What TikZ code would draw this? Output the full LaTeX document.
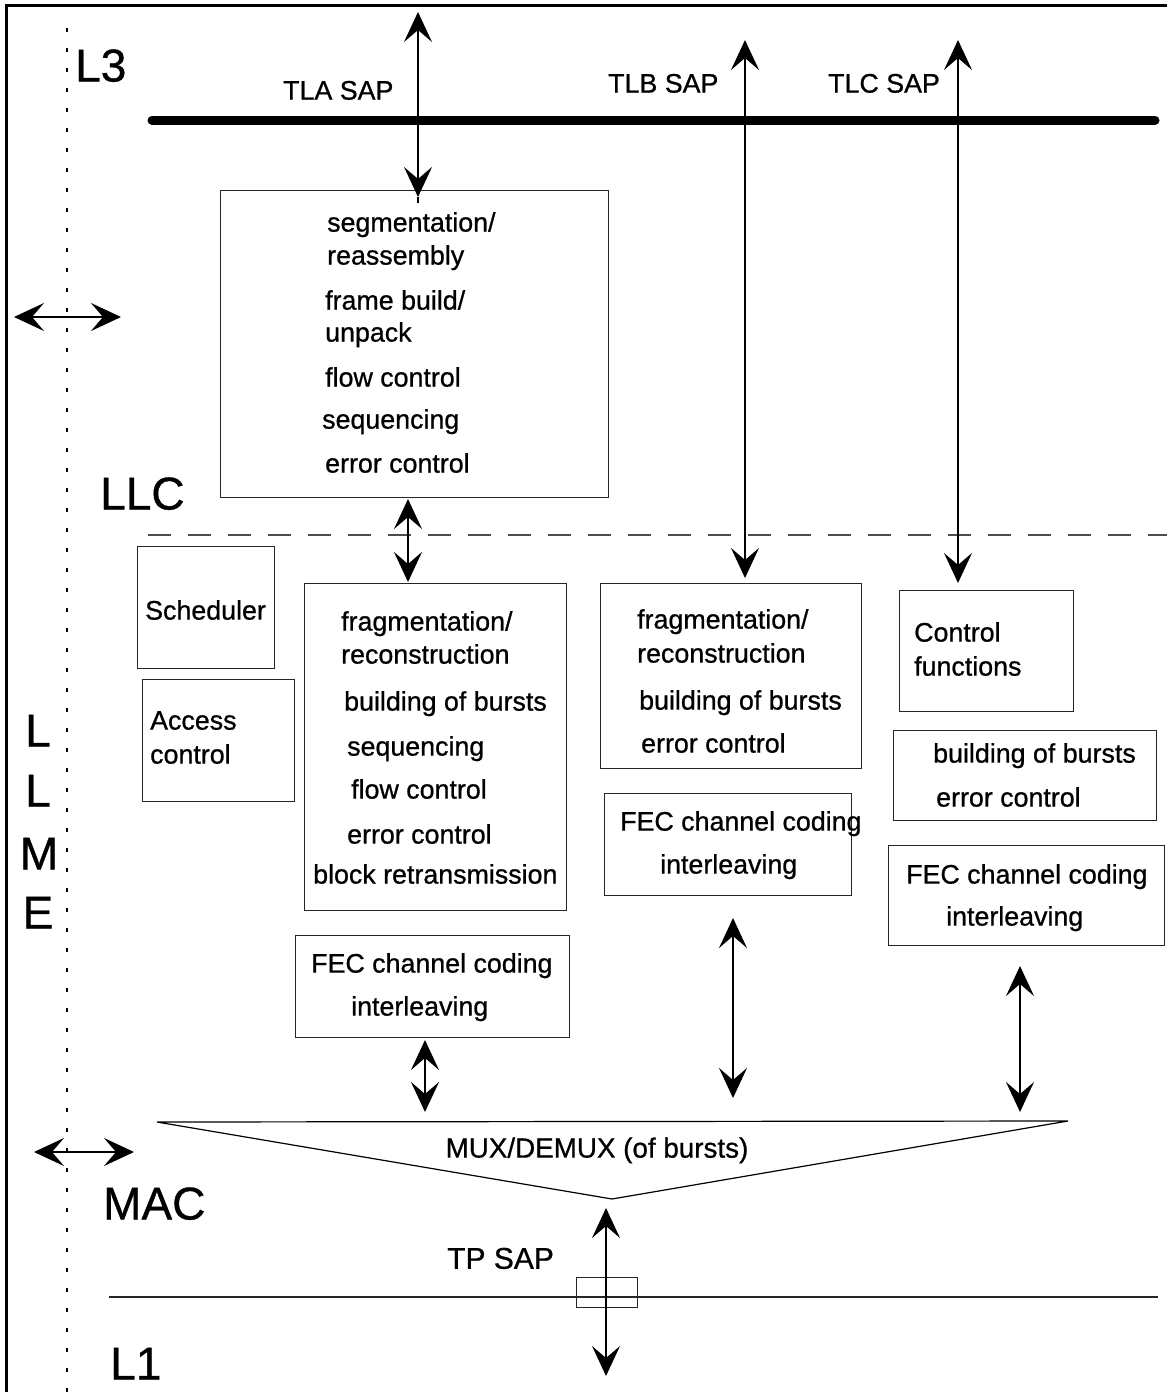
\documentclass[tikz,border=0pt]{standalone}
\usepackage{fontspec}
\setmainfont{Liberation Sans}[RawFeature={embolden=0.8}]
\usetikzlibrary{arrows.meta}
\begin{document}
\begin{tikzpicture}[x=1pt,y=-1pt,
  box/.style={draw=black!85, line width=1.3pt, inner sep=0pt, anchor=north west},
  txt/.style={inner sep=0pt, anchor=west, font=\fontsize{26.8}{30}\selectfont, text height=19.2pt, text depth=0pt},
  big/.style={inner sep=0pt, anchor=west, font=\fontsize{46}{50}\selectfont, text height=33pt, text depth=0pt},
  ahead/.tip={Stealth[length=30pt,width=28pt,inset=12pt]},
  dar/.style={ahead-ahead, line width=1.4pt},
]
\useasboundingbox (0,0) rectangle (1167,1392);
% frame
\draw[line width=3pt] (6.5,1392) -- (6.5,5.5) -- (1167,5.5);
% dotted LLME boundary
\draw[line width=1.6pt, dash pattern=on 4pt off 16pt] (67,28) -- (67,1392);
% L3 bar
\draw[line width=9pt, line cap=round] (152,120) -- (1155,120);
% LLC / MAC dashed boundary
\draw[line width=1.5pt, draw=black!70, dash pattern=on 23pt off 17pt] (148,535) -- (1167,535);
% L1 line
\draw[line width=1.3pt, draw=black!85] (109,1297) -- (1158,1297);

% big labels
\node[big] (L3) at (75,65) {L3};
\node[big] (LLC) at (100,493) {LLC};
\node[big] (MAC) at (103,1203) {MAC};
\node[big] (L1) at (110,1363) {L1};
\node[big,anchor=center] (lm1) at (38,730) {L};
\node[big,anchor=center] (lm2) at (38,790) {L};
\node[big,anchor=center] (lm3) at (39,853) {M};
\node[big,anchor=center] (lm4) at (38,912) {E};

% SAP labels
\node[txt] (tla) at (283,90) {TLA SAP};
\node[txt] (tlb) at (608,83) {TLB SAP};
\node[txt] (tlc) at (828,83) {TLC SAP};
\node[txt, font=\fontsize{30}{34}\selectfont, text height=21.5pt] (tp) at (447,1258) {TP SAP};

% boxes
\node[box, minimum width=388pt, minimum height=307pt] (llc) at (220,190) {};
\node[box, minimum width=137pt, minimum height=122pt] (sched) at (137,546) {};
\node[box, minimum width=152pt, minimum height=122pt] (acc) at (142,679) {};
\node[box, minimum width=262pt, minimum height=327pt] (frag1) at (304,583) {};
\node[box, minimum width=274pt, minimum height=102pt] (fec1) at (295,935) {};
\node[box, minimum width=261pt, minimum height=185pt] (frag2) at (600,583) {};
\node[box, minimum width=247pt, minimum height=102pt] (fec2) at (604,793) {};
\node[box, minimum width=174pt, minimum height=121pt] (ctrl) at (899,590) {};
\node[box, minimum width=263pt, minimum height=90pt] (bb3) at (893,730) {};
\node[box, minimum width=276pt, minimum height=100pt] (fec3) at (888,845) {};
\node[box, minimum width=61pt, minimum height=30pt] (tprect) at (576,1277) {};

% LLC box text
\node[txt] (l1) at (327,222) {segmentation/};
\node[txt] (l2) at (327,255) {reassembly};
\node[txt] (l3) at (325,300) {frame build/};
\node[txt] (l4) at (325,332) {unpack};
\node[txt] (l5) at (325,377) {flow control};
\node[txt] (l6) at (322,419) {sequencing};
\node[txt] (l7) at (325,463) {error control};

% Scheduler / access
\node[txt] (s1) at (145,610) {Scheduler};
\node[txt] (a1) at (150,720) {Access};
\node[txt] (a2) at (150,754) {control};

% frag box 1
\node[txt] (f1) at (341,621) {fragmentation/};
\node[txt] (f2) at (341,654) {reconstruction};
\node[txt] (f3) at (344,701) {building of bursts};
\node[txt] (f4) at (347,746) {sequencing};
\node[txt] (f5) at (351,789) {flow control};
\node[txt] (f6) at (347,834) {error control};
\node[txt] (f7) at (313,874) {block retransmission};

% FEC 1
\node[txt] (e1) at (311,963) {FEC channel coding};
\node[txt] (e2) at (351,1006) {interleaving};

% frag box 2
\node[txt] (g1) at (637,619) {fragmentation/};
\node[txt] (g2) at (637,653) {reconstruction};
\node[txt] (g3) at (639,700) {building of bursts};
\node[txt] (g4) at (641,743) {error control};

% FEC 2
\node[txt] (h1) at (620,821) {FEC channel coding};
\node[txt] (h2) at (660,864) {interleaving};

% control functions
\node[txt] (c1) at (914,632) {Control};
\node[txt] (c2) at (914,666) {functions};

% box 3
\node[txt] (b1) at (933,753) {building of bursts};
\node[txt] (b2) at (936,797) {error control};

% FEC 3
\node[txt] (k1) at (906,874) {FEC channel coding};
\node[txt] (k2) at (946,916) {interleaving};

% MUX/DEMUX
\coordinate (mL) at (157,1122);
\coordinate (mR) at (1068,1121);
\coordinate (mA) at (612,1199);
\draw[line width=1.2pt] (mL) -- (mR) -- (mA) -- cycle;
\node[txt, anchor=center, font=\fontsize{27.8}{32}\selectfont] (mux) at (597,1148) {MUX/DEMUX (of bursts)};

% arrow end points
\coordinate (tlaT) at (418,12);
\coordinate (tlaB) at (418,197);
\coordinate (tlaX) at (418,203);
\coordinate (tlbT) at (745,40);
\coordinate (tlbB) at (745,578);
\coordinate (tlcT) at (958,40);
\coordinate (tlcB) at (958,583);
\coordinate (llT) at (408,499);
\coordinate (llB) at (408,582);
\coordinate (m1T) at (425,1040);
\coordinate (m1B) at (425,1112);
\coordinate (m2T) at (733,918);
\coordinate (m2B) at (733,1098);
\coordinate (m3T) at (1020,966);
\coordinate (m3B) at (1020,1112);
\coordinate (tpT) at (606,1208);
\coordinate (tpB) at (606,1376);
\coordinate (lmA) at (14,317);
\coordinate (lmB) at (121,317);
\coordinate (lmC) at (34,1152);
\coordinate (lmD) at (134,1152);

\draw[dar] (tlaT) -- (tlaB);
\draw[line width=1.4pt] (tlaB) -- (tlaX);
\draw[dar] (tlbT) -- (tlbB);
\draw[dar] (tlcT) -- (tlcB);
\draw[dar] (llT) -- (llB);
\draw[dar] (m1T) -- (m1B);
\draw[dar] (m2T) -- (m2B);
\draw[dar] (m3T) -- (m3B);
\draw[dar] (tpT) -- (tpB);
\draw[dar] (lmA) -- (lmB);
\draw[dar] (lmC) -- (lmD);
\end{tikzpicture}
\end{document}
